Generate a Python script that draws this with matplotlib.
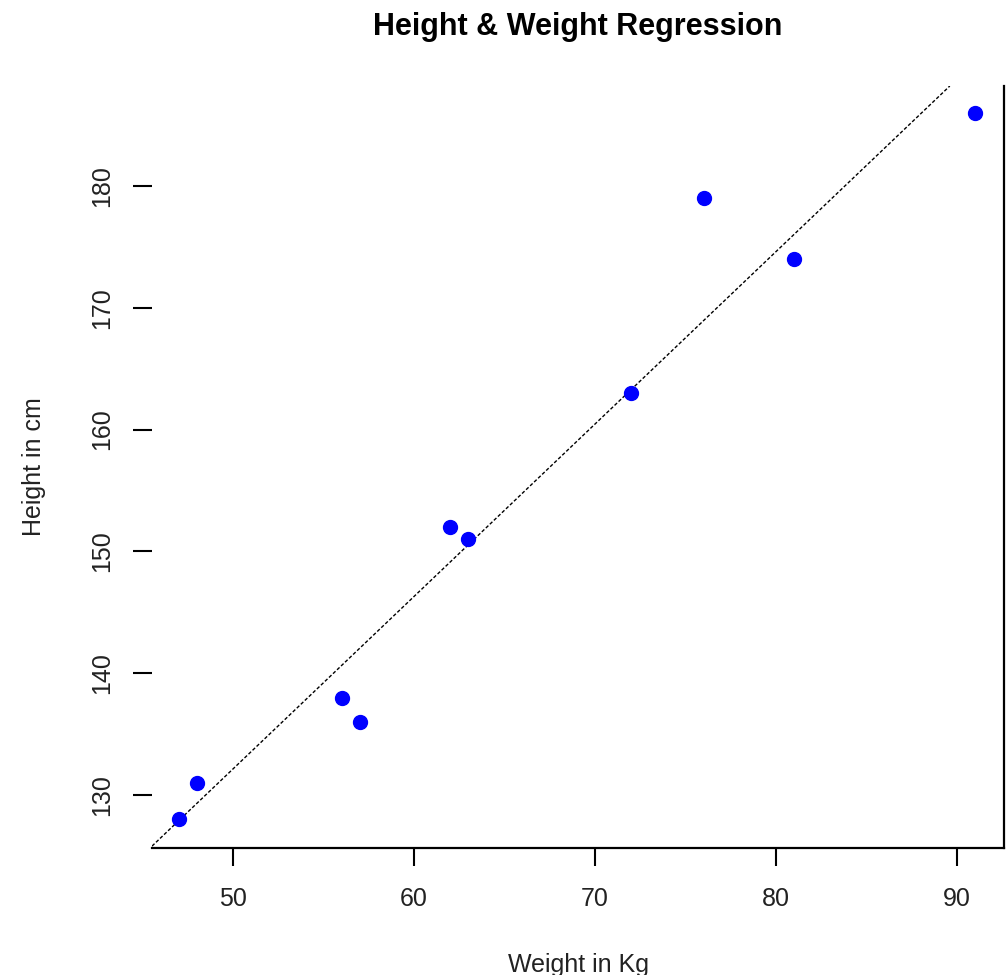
import numpy as np
import matplotlib
matplotlib.use("Agg")
import matplotlib.pyplot as plt

# Data
height_cm = [151, 174, 138, 186, 128, 136, 179, 163, 152, 131]
weight_kg = [63, 81, 56, 91, 47, 57, 76, 72, 62, 48]
x_ticks = [50, 60, 70, 80, 90]
y_ticks = [130, 140, 150, 160, 170, 180]

title = "Height & Weight Regression"
xlabel = "Weight in Kg"
ylabel = "Height in cm"

plt.rcParams['font.family'] = ['Liberation Sans', 'DejaVu Sans']

fig = plt.figure(figsize=(10.07, 9.75), dpi=100)
ax = fig.add_axes([152/1007, 1 - 848/975, (1004-152)/1007, (848-86)/975])

ax.plot(weight_kg, height_cm, linestyle='none', marker='o', color='#0000ff',
        markersize=10, zorder=3)

slope, intercept = np.polyfit(weight_kg, height_cm, 1)
ax.axline((0, intercept), slope=slope, color='black', linewidth=1.0,
          linestyle=(0, (2.5, 1.5)), zorder=2)

ax.set_xlim(45.52, 92.6)
ax.set_ylim(125.65, 188.2)
ax.set_xticks(x_ticks)
ax.set_yticks(y_ticks)
ax.set_xticklabels([str(v) for v in x_ticks], fontsize=18, color='#222222')
ax.set_yticklabels([str(v) for v in y_ticks], fontsize=18, color='#222222',
                   rotation=90, va='center')

ax.spines['top'].set_visible(False)
ax.spines['left'].set_visible(False)
ax.spines['bottom'].set_linewidth(1.6)
ax.spines['right'].set_linewidth(1.6)
ax.tick_params(axis='x', length=13, width=1.5, pad=15)
ax.tick_params(axis='y', length=14, width=1.5, pad=13)

ax.set_title(title, fontsize=22, fontweight='bold', pad=37)
ax.set_xlabel(xlabel, fontsize=18, labelpad=30, color='#222222')
ax.set_ylabel(ylabel, fontsize=18, labelpad=32, color='#222222')

fig.savefig("out.png", dpi=100)
